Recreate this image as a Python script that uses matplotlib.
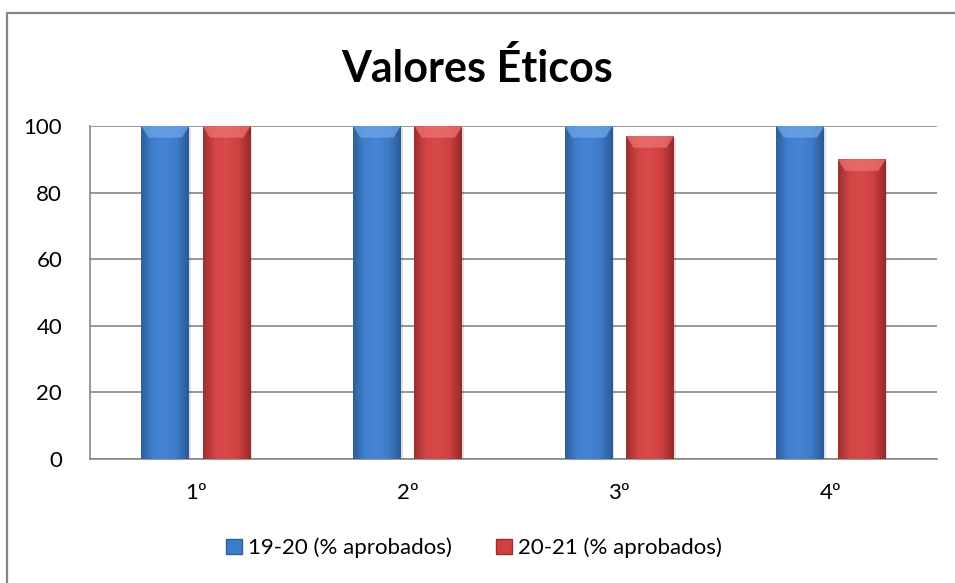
import matplotlib
matplotlib.use("Agg")
import matplotlib.pyplot as plt
import numpy as np
from matplotlib.patches import Rectangle
from matplotlib.colors import LinearSegmentedColormap

categories = ["1º", "2º", "3º", "4º"]
serie_1920 = [100, 100, 100, 100]
serie_2021 = [100, 100, 97, 90]
labels = ["19-20 (% aprobados)", "20-21 (% aprobados)"]
title = "Valores Éticos"

plt.rcParams['font.family'] = ['Lato', 'DejaVu Sans']

W, H = 955, 583
fig = plt.figure(figsize=(W / 100, H / 100), dpi=100)
ax = fig.add_axes([90 / W, 1 - 459 / H, (937 - 90) / W, (459 - 126) / H])

x = np.arange(len(categories))
bw = 0.226
off = 0.145
blue = "#3D7BCB"
red = "#D23F3F"
b1 = ax.bar(x - off, serie_1920, bw, color=blue, zorder=3, linewidth=0)
b2 = ax.bar(x + off, serie_2021, bw, color=red, zorder=3, linewidth=0)

cmap_b = LinearSegmentedColormap.from_list("b", ["#2F5F9C", "#4080D0", "#4585D4", "#3E7BC8", "#2C5A95"])
cmap_r = LinearSegmentedColormap.from_list("r", ["#9E2E2E", "#D44545", "#D84A4A", "#CF4040", "#962A2A"])
grad = np.linspace(0, 1, 64).reshape(1, -1)
for bars, cm, top_c in [(b1, cmap_b, "#6FA6E8"), (b2, cmap_r, "#EC7373")]:
    for p in bars:
        x0, y0 = p.get_x(), p.get_y()
        w, h = p.get_width(), p.get_height()
        ax.add_patch(Rectangle((x0 + 0.008, y0), w, h - 0.6, color="#000000", alpha=0.12,
                               zorder=2, linewidth=0))
        im = ax.imshow(grad, cmap=cm, aspect="auto", extent=(x0, x0 + w, y0, y0 + h),
                       zorder=3.5, interpolation="bilinear")
        im.set_clip_path(p)
        bev = 3.5
        ax.fill([x0, x0 + w, x0 + w - 0.035, x0 + 0.035],
                [y0 + h, y0 + h, y0 + h - bev, y0 + h - bev],
                color=top_c, alpha=0.75, zorder=4, linewidth=0)

ax.set_xlim(-0.5, 3.5)
ax.set_ylim(0, 100)
ax.set_yticks(np.arange(0, 101, 20))
ax.set_xticks(x)
ax.set_xticklabels(categories)
ax.yaxis.grid(True, color="#868686", linewidth=1.2, zorder=0)
ax.set_axisbelow(True)
for s in ["top", "right"]:
    ax.spines[s].set_visible(False)
for s in ["left", "bottom"]:
    ax.spines[s].set_color("#868686")
    ax.spines[s].set_linewidth(1.2)
ax.tick_params(axis="both", length=0, labelsize=16, colors="black")
ax.tick_params(axis="y", pad=20)
ax.tick_params(axis="x", pad=17)

fig.text(0.5, 1 - 69 / H, title, ha="center", va="center", fontsize=31,
         fontweight="bold")

fig.patches.append(Rectangle((6.5 / W, -0.1), 1.2, 1.1 - 13.5 / H, transform=fig.transFigure,
                             fill=False, edgecolor="#868686", linewidth=1.6))

h1 = Rectangle((0, 0), 1, 1, facecolor=blue, edgecolor="#2F5F9C")
h2 = Rectangle((0, 0), 1, 1, facecolor=red, edgecolor="#9E2E2E")
fig.legend([h1, h2], labels, loc="center", bbox_to_anchor=(474 / W, 1 - 548 / H), ncol=2,
           frameon=False, fontsize=16, handlelength=0.72, handleheight=0.72,
           handletextpad=0.25, columnspacing=2.0)

fig.savefig("out.png", dpi=100)
